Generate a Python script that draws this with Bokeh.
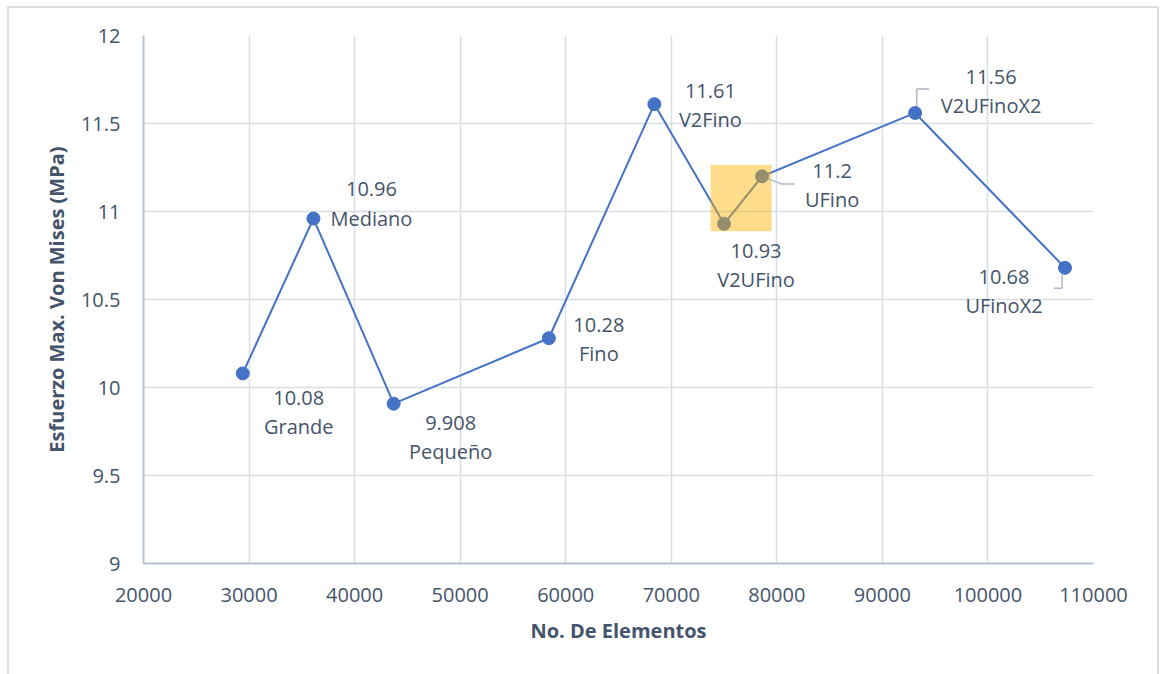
from bokeh.plotting import figure
from bokeh.layouts import column
from bokeh.models import Range1d, FixedTicker, ColumnDataSource
from bokeh.core.properties import value
from bokeh.embed import file_html
from bokeh.resources import INLINE

# Mesh study: maximum Von Mises stress vs. number of elements
mesh_names = ["Grande", "Mediano", "Pequeño", "Fino", "V2Fino",
              "V2UFino", "UFino", "V2UFinoX2", "UFinoX2"]
element_counts = [29400, 36100, 43700, 58400, 68400, 75000, 78600, 93100, 107300]
max_stress = [10.08, 10.96, 9.908, 10.28, 11.61, 10.93, 11.2, 11.56, 10.68]

x_ticks = [20000, 30000, 40000, 50000, 60000, 70000, 80000, 90000, 100000, 110000]
x_tick_labels = ["20000", "30000", "40000", "50000", "60000", "70000",
                 "80000", "90000", "100000", "110000"]
y_ticks = [9, 9.5, 10, 10.5, 11, 11.5, 12]
y_tick_labels = ["9", "9.5", "10", "10.5", "11", "11.5", "12"]

# highlighted pair of meshes (indices into the arrays above)
highlighted = [5, 6]

FONT = "Open Sans"
TEXT = "#44546A"
BLUE = "#4472C4"
GRID = "#D9DEE6"
EDGE = "2px solid #DADDE2"

# figure sits inside a bordered chart area (border 7/6 px from page edge)
W, H = 1148, 666
ML, MR, MT, MB = 134, 64, 27, 111
FW, FH = W - ML - MR, H - MT - MB
X0, X1 = 20000, 110000
Y0, Y1 = 9, 12
sx = (X1 - X0) / FW   # data units per pixel
sy = (Y1 - Y0) / FH

p = figure(width=W, height=H, output_backend="svg", toolbar_location=None,
           x_range=Range1d(X0, X1), y_range=Range1d(Y0, Y1),
           min_border_left=ML, min_border_right=MR,
           min_border_top=MT, min_border_bottom=MB)
p.background_fill_color = "white"
p.border_fill_color = "white"
p.outline_line_color = None

for ax, ticks, labels in ((p.xaxis, x_ticks, x_tick_labels), (p.yaxis, y_ticks, y_tick_labels)):
    ax.ticker = FixedTicker(ticks=ticks)
    ax.major_label_overrides = dict(zip(ticks, labels))
    ax.major_tick_line_color = None
    ax.minor_tick_line_color = None
    ax.axis_line_color = "#B7C0CF"
    ax.axis_line_width = 2
    ax.major_label_text_font = FONT
    ax.major_label_text_font_size = "20px"
    ax.major_label_text_color = TEXT
    ax.axis_label_text_font = FONT
    ax.axis_label_text_font_size = "20px"
    ax.axis_label_text_font_style = "bold"
    ax.axis_label_text_color = TEXT

p.xaxis.axis_label = "No. De Elementos"
p.yaxis.axis_label = "Esfuerzo Max. Von Mises (MPa)"
p.xaxis.major_label_standoff = 18
p.yaxis.major_label_standoff = 17
p.xaxis.axis_label_standoff = 12
p.yaxis.axis_label_standoff = 8

p.xgrid.ticker = FixedTicker(ticks=x_ticks)
p.ygrid.ticker = FixedTicker(ticks=y_ticks)
for g in (p.xgrid, p.ygrid):
    g.grid_line_color = GRID
    g.grid_line_width = 1.5

src = ColumnDataSource(dict(
    x=element_counts, y=max_stress,
    label=[f"{v}\n{n}" for v, n in zip(max_stress, mesh_names)],
))

p.line("x", "y", source=src, line_color=BLUE, line_width=2)
p.scatter("x", "y", source=src, size=13, fill_color=BLUE, line_color=BLUE)

# translucent highlight box around the highlighted pair
hx = [element_counts[i] for i in highlighted]
hy = [max_stress[i] for i in highlighted]
pad_l, pad_r, pad_t, pad_b = 13.5, 9.5, 11.5, 7.5   # pixels
p.quad(left=[min(hx) - pad_l * sx], right=[max(hx) + pad_r * sx],
       top=[max(hy) + pad_t * sy], bottom=[min(hy) - pad_b * sy],
       fill_color="#FBB200", fill_alpha=0.45, line_color=None)

# data label offsets (pixels, centre of the two-line label)
label_dx = [56, 58, 57, 50, 56, 32, 70, 76, -61]
label_dy = [39, -15, 33, 1, 1, 41, 9, -22, 23]
src.data["dx"] = label_dx
src.data["dy"] = label_dy
p.text("x", "y", text="label", source=src, x_offset="dx", y_offset="dy",
       text_font=value(FONT), text_font_size="20px", text_color=TEXT,
       text_align="center", text_baseline="middle", text_line_height=1.08)

# leader lines for the labels that sit away from their point (pixel paths)
leaders = {
    6: [(6, -2.6), (19.4, -7.6), (32.7, -7.6)],
    7: [(1.7, 7), (1.7, 24), (14.3, 24)],
    8: [(-3, -7), (-3, -20.5), (-11.3, -20.5)],
}
for i, path in leaders.items():
    p.line([element_counts[i] + dx * sx for dx, _ in path],
           [max_stress[i] + dy * sy for _, dy in path],
           line_color="#AEB8C6", line_width=1.5)

chart = column(p, styles={
    "margin-left": "7px", "margin-top": "6px",
    "border-left": EDGE, "border-top": EDGE, "border-right": EDGE,
    "background": "white",
})

open("out.html", "w").write(file_html(chart, INLINE))
